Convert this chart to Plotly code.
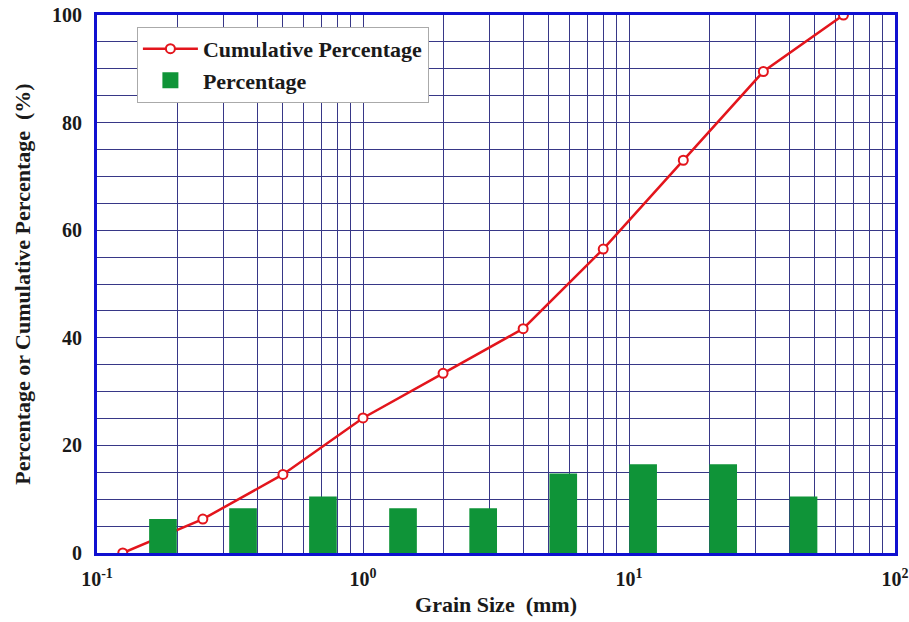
import numpy as np
import plotly.graph_objects as go

# Sieve sizes (mm) and cumulative percentage passing
grain_size = [0.125, 0.25, 0.5, 1, 2, 4, 8, 16, 32, 64]
cumulative = [0, 6.3, 14.6, 25.1, 33.4, 41.7, 56.5, 73.0, 89.5, 100]

# Fraction percentages (bars), centred between sieves
bar_centers = [0.177, 0.354, 0.707, 1.414, 2.83, 5.66, 11.3, 22.6, 45.3]
percentage = [6.3, 8.3, 10.5, 8.3, 8.3, 14.8, 16.5, 16.5, 10.5]

x_decades = [0.1, 1, 10, 100]
x_tick_text = ["10<sup>-1</sup>", "10<sup>0</sup>", "10<sup>1</sup>", "10<sup>2</sup>"]
y_labels = [0, 20, 40, 60, 80, 100]

BAR_HALF_DEC = 0.052  # half bar width in decades
RED = "#e3151c"
GREEN = "#0f9438"
BLUE = "#1010d0"
GRID = "rgb(55,55,135)"
FONT = "Liberation Serif"
TXT = "#1a1a1a"

# build bar polygons from data
bx, by = [], []
for c, v in zip(bar_centers, percentage):
    a = c / 10 ** BAR_HALF_DEC
    b = c * 10 ** BAR_HALF_DEC
    bx += [a, b, b, a, a, None]
    by += [0, 0, v, v, 0, None]

# tick values for gridlines
xt_vals, xt_text = [], []
for d, lab in zip(x_decades[:-1], x_tick_text[:-1]):
    for k in range(1, 10):
        xt_vals.append(k * d)
        xt_text.append(lab if k == 1 else "")
xt_vals.append(x_decades[-1])
xt_text.append(x_tick_text[-1])

yt_vals = list(range(0, 101, 5))
yt_text = [str(v) if v in y_labels else "" for v in yt_vals]

fig = go.Figure()

fig.add_trace(go.Scatter(
    x=grain_size, y=cumulative, mode="lines+markers",
    name="Cumulative Percentage",
    line=dict(color=RED, width=2.5),
    marker=dict(symbol="circle", size=9, color="white",
                line=dict(color=RED, width=2)),
))

fig.add_trace(go.Scatter(
    x=bx, y=by, mode="lines", fill="toself", fillcolor=GREEN,
    line=dict(width=0, color=GREEN), showlegend=False, hoverinfo="skip",
))

# legend entry for the bars
fig.add_trace(go.Scatter(
    x=[None], y=[None], mode="markers", name="Percentage",
    marker=dict(symbol="square", size=16, color=GREEN),
))

tick_font = dict(family=FONT, size=20, color=TXT, weight="bold")
title_font = dict(family=FONT, size=22, color=TXT, weight="bold")

fig.update_layout(
    width=909, height=622,
    margin=dict(l=97, r=14, t=15, b=69, autoexpand=False),
    paper_bgcolor="white", plot_bgcolor="white",
    font=dict(family=FONT, size=20, color=TXT),
    showlegend=True,
    legend=dict(
        x=0.05, y=0.978, xanchor="left", yanchor="top",
        bgcolor="white", bordercolor="#aaa", borderwidth=1,
        font=dict(family=FONT, size=22, color=TXT, weight="bold"),
        tracegroupgap=0, itemwidth=55,
    ),
    xaxis=dict(
        type="log", range=[-1, 2], automargin=False,
        tickmode="array", tickvals=xt_vals, ticktext=xt_text,
        showgrid=True, gridcolor=GRID, gridwidth=1,
        showline=True, linecolor=BLUE, linewidth=3, mirror=True,
        ticks="", zeroline=False, ticklabelstandoff=6,
        tickfont=tick_font,
        title=dict(text="Grain Size  (mm)", font=title_font, standoff=8),
    ),
    yaxis=dict(
        range=[0, 100], automargin=False,
        tickmode="array", tickvals=yt_vals, ticktext=yt_text,
        showgrid=True, gridcolor=GRID, gridwidth=1,
        showline=True, linecolor=BLUE, linewidth=3, mirror=True,
        ticks="", zeroline=False, ticklabelstandoff=8,
        tickfont=tick_font,
        title=dict(text="Percentage or Cumulative Percentage  (%)",
                   font=title_font, standoff=16),
    ),
)

fig.write_html("out.html")
